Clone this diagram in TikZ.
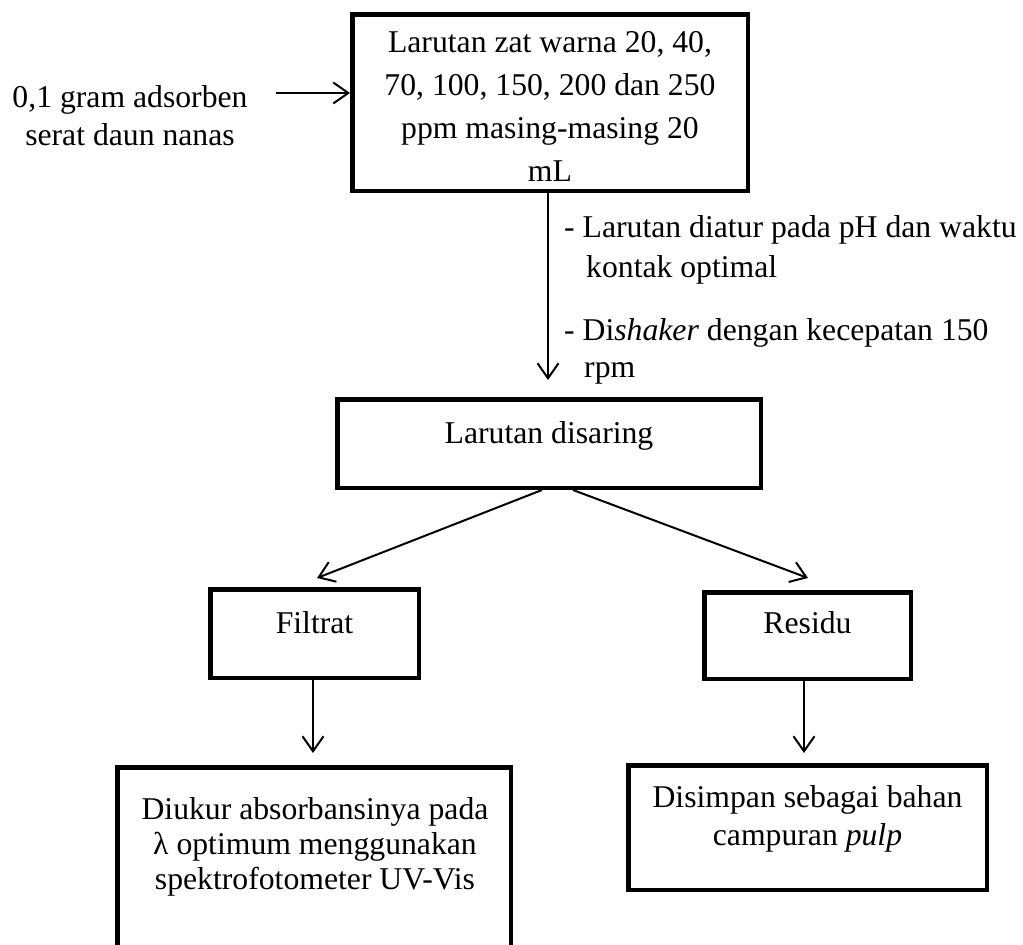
\documentclass[tikz,border=0pt]{standalone}
\usepackage{fontspec}
\setmainfont{Liberation Serif}
\usetikzlibrary{arrows.meta}
% stacked lines whose baseline is the baseline of the first line
\newcommand{\ctrlines}[1]{\vtop{\halign{\hfil##\hfil\cr#1\crcr}}}
\newcommand{\leftlines}[1]{\vtop{\halign{##\hfil\cr#1\crcr}}}
\begin{document}
\begin{tikzpicture}[x=1pt,y=-1pt,
  procbox/.style={draw, line width=4.5pt, rectangle, inner sep=0pt},
  txt/.style={inner sep=0pt, anchor=base, font=\fontsize{31.7}{#1}\selectfont},
  txt/.default=38,
  arr/.style={line width=2pt, -{Straight Barb[length=15pt,width=21pt]}}]
\useasboundingbox (0,0) rectangle (1023,945);
\fill[white] (0,0) rectangle (1023,945);
\clip (0,0) rectangle (1023,945);

% boxes
\node[procbox, minimum width=395.5pt, minimum height=176.5pt] (top) at (550,102.5) {};
\node[procbox, minimum width=423.5pt, minimum height=88.5pt] (disaring) at (549,443.5) {};
\node[procbox, minimum width=208.5pt, minimum height=88.5pt] (filtrat) at (314.5,633.5) {};
\node[procbox, minimum width=206.5pt, minimum height=86.5pt] (residu) at (807.5,635.5) {};
\node[procbox, minimum width=393.5pt, minimum height=220.5pt] (ukur) at (314,877.5) {};
\node[procbox, minimum width=358.5pt, minimum height=124.5pt] (simpan) at (807.5,827.5) {};

% texts
\node[txt=43] (toptext) at (550,52) {\ctrlines{Larutan zat warna 20, 40,\cr 70, 100, 150, 200 dan 250\cr ppm masing-masing 20\cr mL}};
\node[txt=38] (adsorben) at (130,107) {\ctrlines{0,1 gram adsorben\cr serat daun nanas}};
\node[txt=40, anchor=base west] (cond1) at (564,237) {\leftlines{- Larutan diatur pada pH dan waktu\cr\hspace*{22pt}kontak optimal}};
\node[txt=37, anchor=base west] (cond2) at (564,340) {\leftlines{- Di\textit{shaker} dengan kecepatan 150\cr\hspace*{20pt}rpm}};
\node[txt] (disaringtext) at (549,443) {Larutan disaring};
\node[txt] (filtrattext) at (314.5,633) {Filtrat};
\node[txt] (residutext) at (807.5,633) {Residu};
\node[txt=35] (ukurtext) at (315,819) {\ctrlines{Diukur absorbansinya pada\cr λ optimum menggunakan\cr spektrofotometer UV-Vis}};
\node[txt=38] (simpantext) at (807.5,807) {\ctrlines{Disimpan sebagai bahan\cr campuran \textit{pulp}}};

% connectors
\coordinate (feed) at (276,93);
\draw[arr] (feed) -- (feed -| top.west);
\draw[arr] ([xshift=-2pt]top.south) -- ([xshift=-1pt,yshift=17pt]disaring.north);
\draw[arr] ([xshift=-7pt]disaring.south) -- ([xshift=2.5pt,yshift=9pt]filtrat.north);
\draw[arr] ([xshift=24pt]disaring.south) -- ([xshift=0.5pt,yshift=12pt]residu.north);
\draw[arr] ([xshift=-1.5pt]filtrat.south) -- ([xshift=-1pt,yshift=12pt]ukur.north);
\draw[arr] ([xshift=-3.5pt]residu.south) -- ([xshift=-3.5pt,yshift=10pt]simpan.north);
\end{tikzpicture}
\end{document}
